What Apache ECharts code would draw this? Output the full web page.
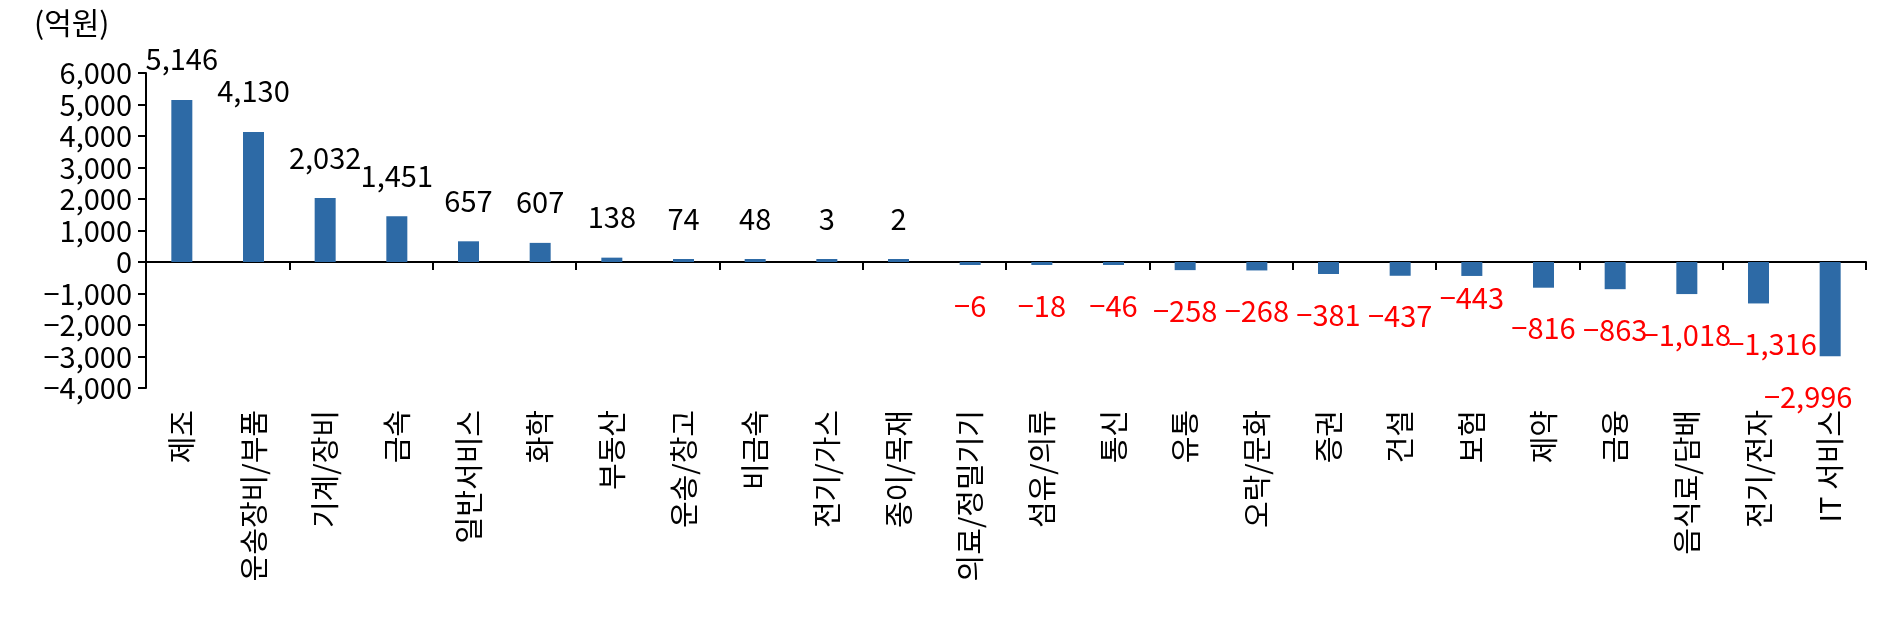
<!DOCTYPE html>
<html><head><meta charset="utf-8">
<script src="https://cdn.jsdelivr.net/npm/echarts@6/dist/echarts.min.js"></script>
<style>html,body{margin:0;padding:0;background:#fff}#c{width:1880px;height:624px}</style>
</head><body><div id="c"></div>
<script>
const categories = ['제조','운송장비/부품','기계/장비','금속','일반서비스','화학','부동산','운송/창고','비금속','전기/가스','종이/목재','의료/정밀기기','섬유/의류','통신','유통','오락/문화','증권','건설','보험','제약','금융','음식료/담배','전기/전자','IT 서비스'];
const values = [5146,4130,2032,1451,657,607,138,74,48,3,2,-6,-18,-46,-258,-268,-381,-437,-443,-816,-863,-1018,-1316,-2996];
const yTicks = [-4000,-3000,-2000,-1000,0,1000,2000,3000,4000,5000,6000];
const unitLabel = '(억원)';

const FONT = '"Noto Sans CJK KR", "Noto Sans", sans-serif';
function fmt(v){
  const s = Math.abs(v).toLocaleString('en-US');
  return v < 0 ? '\u2212' + s : s;
}
const labelOffsets = {18: [0,-18], 22: [14,0], 23: [-22,0]};

const chart = echarts.init(document.getElementById('c'), null, {renderer:'canvas'});
chart.setOption({
  animation: false,
  backgroundColor: '#fff',
  grid: {left: 146, right: 14, top: 73, bottom: 236, containLabel: false},
  graphic: [{type:'text', left: 34, top: 8, style:{text: unitLabel, font: '30px ' + FONT, fill:'#000'}}],
  xAxis: [
    {type:'category', data: categories, position:'bottom',
     axisLine:{onZero:true, lineStyle:{color:'#000', width:2}},
     axisTick:{show:true, inside:false, length:8, lineStyle:{color:'#000', width:2}},
     axisLabel:{show:false}, splitLine:{show:false}},
    {type:'category', data: categories, position:'bottom',
     axisLine:{show:false}, axisTick:{show:false},
     axisLabel:{show:true, rotate:90, margin:22, interval:0, color:'#000', fontSize:29, fontFamily:FONT},
     splitLine:{show:false}}
  ],
  yAxis: {type:'value', min: yTicks[0], max: yTicks[yTicks.length-1], interval: 1000,
    axisLine:{show:true, lineStyle:{color:'#000', width:2}},
    axisTick:{show:true, length:8, lineStyle:{color:'#000', width:2}},
    axisLabel:{color:'#000', fontSize:29, fontFamily:FONT, margin:14, formatter: v => fmt(v)},
    splitLine:{show:false}},
  series: [{
    type:'bar', xAxisIndex:0, barWidth: 21, barMinHeight: 3,
    itemStyle:{color:'#2D6AA6'},
    data: values.map((v,i) => {
      const neg = v < 0;
      const lab = {position: neg ? 'bottom' : 'top', color: neg ? '#FF0000' : '#000'};
      if (labelOffsets[i]) lab.offset = labelOffsets[i];
      return {value: v, label: lab};
    }),
    label:{show:true, fontSize:29, fontFamily:FONT, distance:26,
      formatter: p => fmt(p.value)}
  }]
});
</script></body></html>
